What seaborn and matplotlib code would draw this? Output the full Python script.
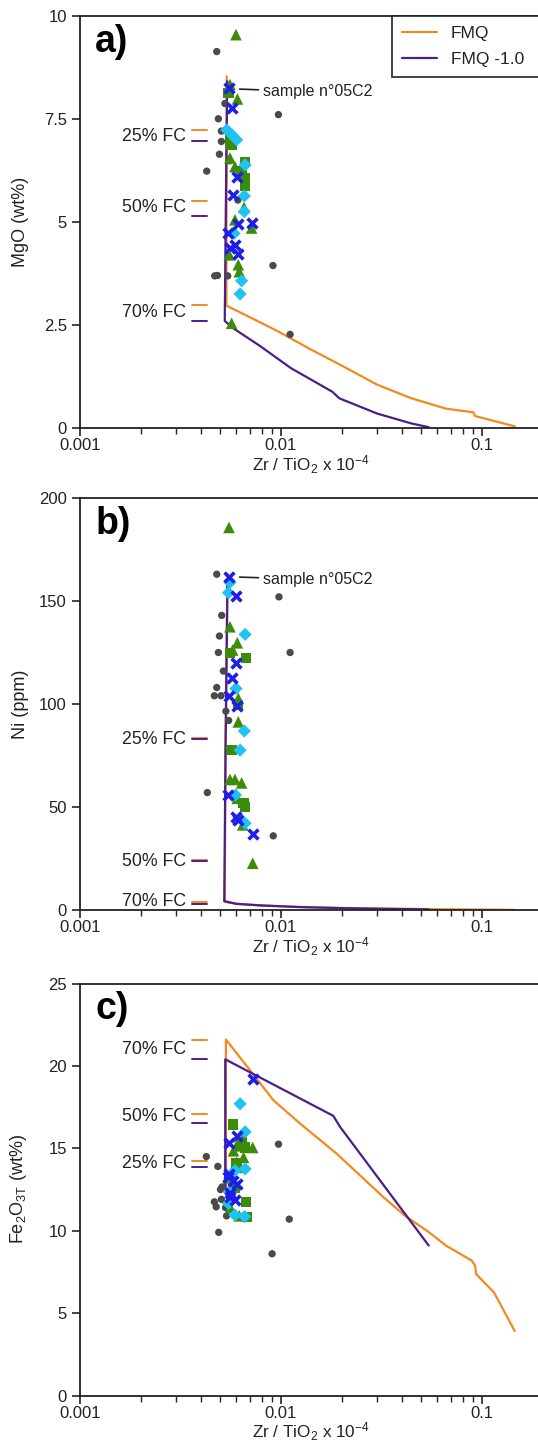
import numpy as np
import pandas as pd
import matplotlib
matplotlib.use("Agg")
import matplotlib.pyplot as plt
import matplotlib.ticker as mticker
import seaborn as sns

# ---------------- data ----------------
# model curves (fractional crystallisation)
ORANGE_A_X = [0.00537, 0.00536, 0.00535, 0.00851, 0.00996, 0.01365, 0.0203, 0.0301, 0.0446, 0.0661, 0.0906, 0.0924, 0.1455]
ORANGE_A_Y = [8.53, 5.5, 2.97, 2.48, 2.31, 1.94, 1.50, 1.05, 0.72, 0.47, 0.38, 0.29, 0.04]
PURPLE_A_X = [0.00540, 0.00532, 0.00525, 0.00574, 0.00786, 0.01122, 0.0180, 0.0195, 0.0301, 0.0446, 0.0543]
PURPLE_A_Y = [8.41, 5.5, 2.60, 2.43, 1.99, 1.45, 0.88, 0.72, 0.35, 0.11, 0.02]

ORANGE_B_X = [0.00540, 0.00530, 0.00525, 0.0060, 0.0080, 0.0125, 0.020, 0.035, 0.060, 0.100, 0.145]
ORANGE_B_Y = [157, 80, 4.0, 3.0, 2.2, 1.5, 1.0, 0.7, 0.4, 0.2, 0.1]
PURPLE_B_X = [0.00542, 0.00530, 0.00522, 0.0060, 0.0080, 0.0125, 0.020, 0.035, 0.054]
PURPLE_B_Y = [160, 80, 4.3, 3.0, 2.2, 1.4, 0.9, 0.5, 0.3]

ORANGE_C_X = [0.00532, 0.00532, 0.00701, 0.00916, 0.01245, 0.0189, 0.0323, 0.0412, 0.0543, 0.0661, 0.0888, 0.0924, 0.0935, 0.1148, 0.1455]
ORANGE_C_Y = [12.6, 21.6, 19.74, 17.92, 16.5, 14.68, 12.04, 10.93, 9.92, 9.1, 8.19, 7.88, 7.37, 6.25, 3.91]
PURPLE_C_X = [0.00528, 0.00528, 0.0182, 0.0197, 0.0543]
PURPLE_C_Y = [12.6, 20.4, 16.97, 16.29, 9.1]

# FC marks
FC_LABELS = ["25% FC", "50% FC", "70% FC"]
FC_A_ORANGE = [7.22, 5.51, 2.98]
FC_A_PURPLE = [6.95, 5.15, 2.60]
FC_A_TEXT = [7.07, 5.35, 2.79]
FC_B_ORANGE = [83.6, 24.4, 3.7]
FC_B_PURPLE = [82.8, 23.6, 2.9]
FC_B_TEXT = [83.0, 23.6, 4.0]
FC_C_ORANGE = [14.2, 17.1, 21.6]
FC_C_PURPLE = [13.87, 16.55, 20.4]
FC_C_TEXT = [14.1, 16.93, 20.98]

# samples - panel a (MgO)
GRAY_A_X = [0.00479, 0.00526, 0.00488, 0.00505, 0.00505, 0.00494, 0.00427, 0.00555, 0.00610, 0.00971, 0.00912, 0.00468, 0.00483, 0.00543, 0.0111]
GRAY_A_Y = [9.13, 7.87, 7.50, 7.20, 6.95, 6.64, 6.23, 6.48, 5.53, 7.60, 3.94, 3.69, 3.70, 3.69, 2.27]
TRI_A_X = [0.00597, 0.00557, 0.00607, 0.00557, 0.00590, 0.00590, 0.00714, 0.00553, 0.00613, 0.00620, 0.00568, 0.00655]
TRI_A_Y = [9.54, 8.33, 7.98, 6.55, 6.34, 5.05, 4.85, 4.20, 3.96, 3.79, 2.54, 5.35]
SQ_A_X = [0.00548, 0.00568, 0.00663, 0.00637, 0.00663, 0.00663, 0.00560]
SQ_A_Y = [8.12, 6.87, 6.46, 6.22, 6.06, 5.87, 7.00]
DIA_A_X = [0.00537, 0.00570, 0.00602, 0.00663, 0.00657, 0.00657, 0.00584, 0.00637, 0.00626]
DIA_A_Y = [7.23, 7.11, 6.99, 6.38, 5.63, 5.25, 4.72, 3.57, 3.25]
X_A_X = [0.00553, 0.00568, 0.00601, 0.00580, 0.00714, 0.00609, 0.00548, 0.00590, 0.00557, 0.00613]
X_A_Y = [8.24, 7.76, 6.08, 5.66, 4.97, 4.95, 4.74, 4.44, 4.36, 4.22]

# panel b (Ni)
GRAY_B_X = [0.00479, 0.00977, 0.00507, 0.00494, 0.00488, 0.0111, 0.00517, 0.00479, 0.00466, 0.00503, 0.00532, 0.00549, 0.00430, 0.00915]
GRAY_B_Y = [163, 152, 143, 133, 125, 125, 116, 108, 104, 104, 96.5, 92, 57, 36]
TRI_B_X = [0.00551, 0.00557, 0.00606, 0.00575, 0.00613, 0.00613, 0.00557, 0.00590, 0.00637, 0.00606, 0.00645, 0.00723]
TRI_B_Y = [185.7, 137.5, 129.7, 126.2, 102.7, 91.3, 63.4, 63.4, 61.7, 54.2, 41.3, 22.7]
SQ_B_X = [0.00557, 0.00670, 0.00613, 0.00568, 0.00651, 0.00663]
SQ_B_Y = [124.9, 122.2, 99.5, 77.6, 51.8, 50.1]
DIA_B_X = [0.00557, 0.00548, 0.00663, 0.00597, 0.00657, 0.00626, 0.00594, 0.00663]
DIA_B_Y = [159.0, 154.0, 133.8, 107.5, 86.9, 77.6, 55.8, 42.1]
X_B_X = [0.00553, 0.00597, 0.00597, 0.00568, 0.00551, 0.00606, 0.00543, 0.00597, 0.00609, 0.00723]
X_B_Y = [161.7, 152.6, 120.0, 112.5, 103.8, 99.0, 55.8, 45.3, 43.7, 36.9]

# panel c (Fe2O3T)
GRAY_C_X = [0.00972, 0.00425, 0.00485, 0.00509, 0.00500, 0.00466, 0.00505, 0.00476, 0.00530, 0.00536, 0.00490, 0.01099, 0.00903]
GRAY_C_Y = [15.25, 14.5, 13.9, 12.65, 12.5, 11.75, 11.9, 11.45, 11.4, 10.9, 9.9, 10.7, 8.6]
TRI_C_X = [0.00580, 0.00723, 0.00651, 0.00601, 0.00626, 0.00590, 0.00620, 0.00570, 0.00640, 0.00560, 0.00600, 0.00545]
TRI_C_Y = [14.85, 15.05, 14.45, 14.15, 13.85, 12.8, 10.9, 12.2, 15.55, 11.4, 15.15, 13.2]
SQ_C_X = [0.00575, 0.00637, 0.00663, 0.00670, 0.00680, 0.00600, 0.00590]
SQ_C_Y = [16.45, 15.4, 15.05, 11.75, 10.85, 14.1, 12.6]
DIA_C_X = [0.00626, 0.00663, 0.00663, 0.00590, 0.00553, 0.00548, 0.00590, 0.00660, 0.00570]
DIA_C_Y = [17.7, 16.0, 13.75, 13.65, 12.35, 11.65, 10.95, 10.85, 13.2]
X_C_X = [0.00723, 0.00601, 0.00553, 0.00550, 0.00548, 0.00580, 0.00606, 0.00557, 0.00590, 0.00560]
X_C_Y = [19.2, 15.75, 15.3, 13.45, 13.25, 13.0, 12.85, 12.05, 11.85, 12.3]

SAMPLE_LABEL = "sample n°05C2"
X_TICKS = [0.001, 0.01, 0.1]
X_TICKLABELS = ["0.001", "0.01", "0.1"]
YTICKS_A = [0, 2.5, 5, 7.5, 10]
YTICKLABELS_A = ["0", "2.5", "5", "7.5", "10"]
YTICKS_B = [0, 50, 100, 150, 200]
YTICKS_C = [0, 5, 10, 15, 20, 25]

# ---------------- style ----------------
sns.set_theme(style="ticks")
plt.rcParams["font.family"] = ["Liberation Sans", "DejaVu Sans"]
plt.rcParams["mathtext.fontset"] = "custom"
plt.rcParams["mathtext.rm"] = "Liberation Sans"
plt.rcParams["mathtext.it"] = "Liberation Sans"

ORANGE = "#F5891F"
PURPLE = "#4B1E8C"
GRAY = "#4a4a4a"
GREEN = "#3C8C0A"
CYAN = "#1FC3F2"
BLUE = "#1E1EE8"
TXT = "#222222"

W, H = 538, 1443
fig = plt.figure(figsize=(W / 100, H / 100), dpi=100)

left = 80 / W
width = 462.5 / W
panels = [(15.7, 428.0), (498.0, 910.0), (983.5, 1395.5)]
axes = []
for top, bot in panels:
    axes.append(fig.add_axes([left, 1 - bot / H, width, (bot - top) / H]))


def draw_line(ax, xs, ys, color, label=None):
    df = pd.DataFrame({"x": xs, "y": ys})
    sns.lineplot(data=df, x="x", y="y", ax=ax, color=color, lw=1.6, sort=False,
                 estimator=None, label=label, zorder=2)


def draw_pts(ax, xs, ys, marker, color, s, lw=0, z=3):
    df = pd.DataFrame({"x": xs, "y": ys})
    if marker == "x":
        sns.scatterplot(data=df, x="x", y="y", ax=ax, marker="x", color=color, s=s,
                        linewidth=lw, zorder=z)
    else:
        sns.scatterplot(data=df, x="x", y="y", ax=ax, marker=marker, color=color, s=s,
                        linewidth=0, edgecolor="none", zorder=z)


def draw_samples(ax, g, t, q, d, x):
    draw_pts(ax, g[0], g[1], "o", GRAY, 28, z=3)
    draw_pts(ax, t[0], t[1], "^", GREEN, 70, z=4)
    draw_pts(ax, q[0], q[1], "s", GREEN, 55, z=4)
    draw_pts(ax, d[0], d[1], "D", CYAN, 45, z=5)
    draw_pts(ax, x[0], x[1], "x", BLUE, 50, lw=2.6, z=6)


def draw_fc(ax, yo, yp, yt):
    for o, p, t, lab in zip(yo, yp, yt, FC_LABELS):
        ax.plot([0.00360, 0.00426], [o, o], color=ORANGE, lw=1.4, zorder=2)
        ax.plot([0.00360, 0.00426], [p, p], color=PURPLE, lw=1.4, zorder=2)
        ax.text(0.00337, t, lab, ha="right", va="center", fontsize=12.8, color=TXT)


def style_axis(ax, yticks, ylabels, ylim, ylabel, letter):
    ax.set_xscale("log")
    ax.set_xlim(0.001, 0.2)
    ax.set_ylim(*ylim)
    ax.set_xticks(X_TICKS)
    ax.set_xticklabels(X_TICKLABELS)
    ax.xaxis.set_minor_locator(mticker.LogLocator(base=10, subs=np.arange(2, 10)))
    ax.xaxis.set_minor_formatter(mticker.NullFormatter())
    ax.set_yticks(yticks)
    ax.set_yticklabels(ylabels)
    ax.tick_params(axis="both", which="major", direction="out", length=6, width=1.2,
                   labelsize=12, colors=TXT)
    ax.tick_params(axis="x", which="major", pad=1.5)
    ax.tick_params(axis="x", which="minor", direction="out", length=4, width=1.0)
    for sp in ax.spines.values():
        sp.set_linewidth(1.3)
        sp.set_color(TXT)
    ax.set_xlabel("Zr / TiO$_2$ x 10$^{-4}$", fontsize=12.3, color=TXT)
    ax.xaxis.set_label_coords(0.5, -0.061)
    ax.xaxis.label.set_va("top")
    ax.set_ylabel(ylabel, fontsize=13, color=TXT)
    ax.yaxis.set_label_coords(-0.110, 0.5)
    ax.text(0.00119, ylim[1] * 0.937, letter, fontsize=27, fontweight="bold",
            ha="left", va="center", color="black")


axA, axB, axC = axes

# panel a
draw_line(axA, ORANGE_A_X, ORANGE_A_Y, ORANGE, "FMQ")
draw_line(axA, PURPLE_A_X, PURPLE_A_Y, PURPLE, "FMQ -1.0")
draw_samples(axA, (GRAY_A_X, GRAY_A_Y), (TRI_A_X, TRI_A_Y), (SQ_A_X, SQ_A_Y),
             (DIA_A_X, DIA_A_Y), (X_A_X, X_A_Y))
draw_fc(axA, FC_A_ORANGE, FC_A_PURPLE, FC_A_TEXT)
style_axis(axA, YTICKS_A, YTICKLABELS_A, (0, 10), "MgO (wt%)", "a)")
axA.annotate(SAMPLE_LABEL, xy=(0.00622, 8.22), xytext=(0.00815, 8.15),
             fontsize=11.5, va="center", ha="left", color=TXT,
             arrowprops=dict(arrowstyle="-", lw=1.2, color=TXT, shrinkA=1, shrinkB=0))
leg = axA.legend(loc="upper left", bbox_to_anchor=((392 - 80) / 462.5, 1.0, 0.36, 0.0),
                 mode="expand", borderaxespad=0, frameon=True, fancybox=False,
                 fontsize=12.5, handlelength=2.0, handletextpad=0.8, labelspacing=0.65,
                 borderpad=0.58)
leg.get_frame().set_edgecolor(TXT)
leg.get_frame().set_linewidth(1.2)
leg.get_frame().set_alpha(1)
for t in leg.get_texts():
    t.set_color(TXT)

# panel b
draw_line(axB, ORANGE_B_X, ORANGE_B_Y, ORANGE)
draw_line(axB, PURPLE_B_X, PURPLE_B_Y, PURPLE)
draw_samples(axB, (GRAY_B_X, GRAY_B_Y), (TRI_B_X, TRI_B_Y), (SQ_B_X, SQ_B_Y),
             (DIA_B_X, DIA_B_Y), (X_B_X, X_B_Y))
draw_fc(axB, FC_B_ORANGE, FC_B_PURPLE, FC_B_TEXT)
style_axis(axB, YTICKS_B, [str(v) for v in YTICKS_B], (0, 200), "Ni (ppm)", "b)")
axB.annotate(SAMPLE_LABEL, xy=(0.00622, 161.6), xytext=(0.00815, 160.4),
             fontsize=11.5, va="center", ha="left", color=TXT,
             arrowprops=dict(arrowstyle="-", lw=1.2, color=TXT, shrinkA=1, shrinkB=0))

# panel c
draw_line(axC, ORANGE_C_X, ORANGE_C_Y, ORANGE)
draw_line(axC, PURPLE_C_X, PURPLE_C_Y, PURPLE)
draw_samples(axC, (GRAY_C_X, GRAY_C_Y), (TRI_C_X, TRI_C_Y), (SQ_C_X, SQ_C_Y),
             (DIA_C_X, DIA_C_Y), (X_C_X, X_C_Y))
draw_fc(axC, FC_C_ORANGE, FC_C_PURPLE, FC_C_TEXT)
style_axis(axC, YTICKS_C, [str(v) for v in YTICKS_C], (0, 25), "Fe$_2$O$_{3T}$ (wt%)", "c)")

for ax in (axB, axC):
    if ax.get_legend() is not None:
        ax.get_legend().remove()

fig.savefig("out.png", dpi=100)
